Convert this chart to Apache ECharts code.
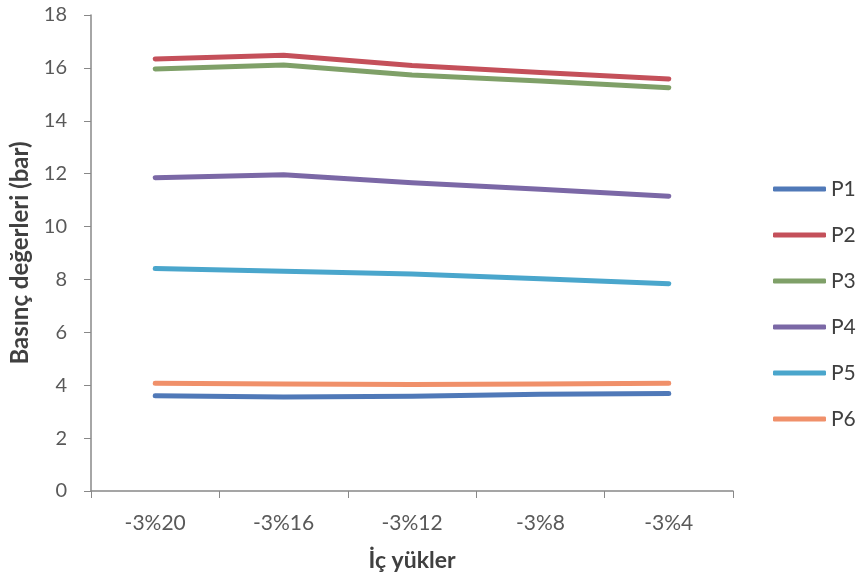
<!DOCTYPE html>
<html><head><meta charset="utf-8">
<script src="https://cdn.jsdelivr.net/npm/echarts@6/dist/echarts.min.js"></script>
<style>html,body{margin:0;padding:0;background:#fff}#c{width:856px;height:588px}</style>
</head><body><div id="c"></div>
<script>
const categories = ['-3%20', '-3%16', '-3%12', '-3%8', '-3%4'];
const P1 = [3.60, 3.55, 3.58, 3.66, 3.69];
const P2 = [16.34, 16.48, 16.09, 15.83, 15.58];
const P3 = [15.96, 16.11, 15.73, 15.50, 15.25];
const P4 = [11.85, 11.96, 11.66, 11.41, 11.15];
const P5 = [8.41, 8.31, 8.21, 8.03, 7.84];
const P6 = [4.07, 4.05, 4.03, 4.05, 4.07];
const seriesNames = ['P1', 'P2', 'P3', 'P4', 'P5', 'P6'];
const seriesData = [P1, P2, P3, P4, P5, P6];
const colors = ['#5079B8', '#C4505A', '#7FA068', '#7B68A6', '#4AA6CC', '#F0906A'];
const yTicks = [0, 2, 4, 6, 8, 10, 12, 14, 16, 18];

const font = 'Lato, "Open Sans", sans-serif';
const chart = echarts.init(document.getElementById('c'));
chart.setOption({
  animation: false,
  color: colors,
  grid: { left: 91, right: 123, top: 15, bottom: 97, containLabel: false },
  legend: {
    orient: 'vertical', left: 768, top: 172,
    itemWidth: 53, itemHeight: 5, itemGap: 22, icon: 'roundRect',
    textStyle: { fontFamily: font, fontSize: 21, color: '#404040', lineHeight: 24 },
    data: seriesNames
  },
  xAxis: {
    type: 'category', data: categories, boundaryGap: true,
    name: 'İç yükler', nameLocation: 'middle', nameGap: 58,
    nameTextStyle: { fontFamily: font, fontSize: 23, fontWeight: 'bold', color: '#404040' },
    axisLine: { lineStyle: { color: '#888', width: 1.5 } },
    axisTick: { show: true, length: 7, lineStyle: { color: '#888' }, alignWithLabel: false },
    axisLabel: { fontFamily: font, fontSize: 21, color: '#595959', margin: 22 },
    splitLine: { show: false }
  },
  yAxis: {
    type: 'value', min: 0, max: 18, interval: 2,
    name: 'Basınç değerleri (bar)', nameLocation: 'middle', nameGap: 59,
    nameTextStyle: { fontFamily: font, fontSize: 24, fontWeight: 'bold', color: '#404040' },
    axisLine: { show: true, lineStyle: { color: '#888', width: 1.5 } },
    axisTick: { show: true, length: 7, lineStyle: { color: '#888' } },
    axisLabel: { fontFamily: font, fontSize: 20, color: '#595959', margin: 24,
      formatter: v => yTicks.includes(v) ? String(v) : '' },
    splitLine: { show: false }
  },
  series: seriesNames.map((n, i) => ({
    name: n, type: 'line', data: seriesData[i], symbol: 'none',
    lineStyle: { width: 5, color: colors[i], cap: 'round', join: 'round' },
    itemStyle: { color: colors[i] }
  }))
});
</script></body></html>
